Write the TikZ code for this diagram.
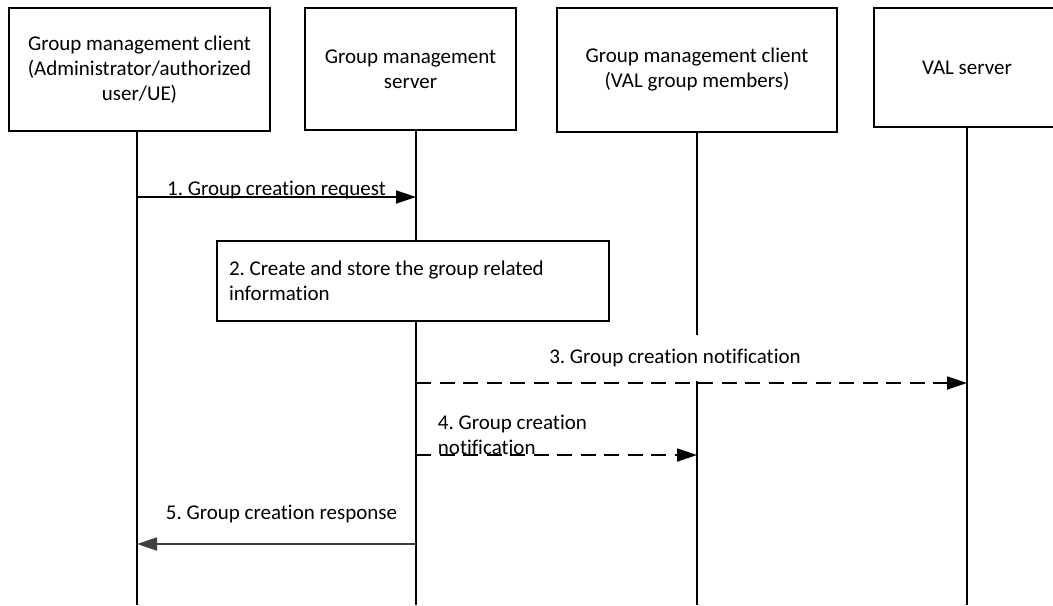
\documentclass[tikz,border=0pt]{standalone}
\usepackage{fontspec}
\setmainfont{Carlito}[Ligatures=NoCommon]
\usetikzlibrary{arrows.meta}
\frenchspacing
\begin{document}
\begin{tikzpicture}[x=0.5pt, y=-0.5pt, line width=0.9pt]
       \tikzstyle{txt}=[font=\fontsize{10.5}{12.5}\selectfont]
       \tikzstyle{entity}=[txt, draw, align=center, inner sep=0pt]
       \tikzstyle{stepbox}=[txt, draw, fill=white, align=flush left, inner sep=6pt]
       \tikzstyle{msg}=[-{Triangle[length=10pt,width=6.5pt]}]
       \tikzstyle{dashmsg}=[msg, dash pattern=on 7.5pt off 4.25pt]
       \tikzstyle{msglabel}=[txt, inner sep=0pt]
       \useasboundingbox (0,0) rectangle (1053,605);
       % entities
       \node[entity, minimum width=130.5pt, minimum height=61.5pt] (admin) at (139.5,69.5)
        {Group management client\\(Administrator/authorized\\user/UE)};
       \node[entity, minimum width=105.5pt, minimum height=61pt] (server) at (410.5,69)
        {Group management\\server};
       \node[entity, minimum width=140pt, minimum height=62pt] (member) at (697,70)
        {Group management client\\(VAL group members)};
       \node[entity, minimum width=93pt, minimum height=59.5pt] (val) at (967,67.5)
        {VAL server};
       % lifelines
       \coordinate (adminL) at (137,605);
       \coordinate (serverL) at (416,605);
       \coordinate (memberL) at (697,605);
       \coordinate (valL) at (967,605);
       \draw (adminL |- admin.south) -- (adminL);
       \draw (serverL |- server.south) -- (serverL);
       \draw (memberL |- member.south) -- (memberL);
       \draw (valL |- val.south) -- (valL);
       % message levels
       \coordinate (m1) at (0,197);
       \coordinate (m3) at (0,383);
       \coordinate (m4) at (0,455);
       \coordinate (m5) at (0,544);
       \node[stepbox, text width=184pt, minimum height=40pt] (store) at (413,281)
        {2. Create and store the group related\\information};
       \node[msglabel, fill=white, minimum height=23pt] (n3) at (675,358)
        {3. Group creation notification};
       \node[msglabel, align=left, anchor=north west] (n4) at (437,414)
        {4. Group creation\\notification};
       % messages
       \draw[msg] (adminL |- m1) -- node[msglabel, anchor=base, yshift=1pt] (n1) {1. Group creation request} (serverL |- m1);
       \draw[dashmsg] (serverL |- m3) -- (valL |- m3);
       \draw[dashmsg] (serverL |- m4) -- (memberL |- m4);
       \draw[msg, black!75] (serverL |- m5) -- node[msglabel, black, anchor=base, yshift=12.5pt, xshift=2.5pt] (n5) {5. Group creation response} (adminL |- m5);
\end{tikzpicture}
\end{document}
